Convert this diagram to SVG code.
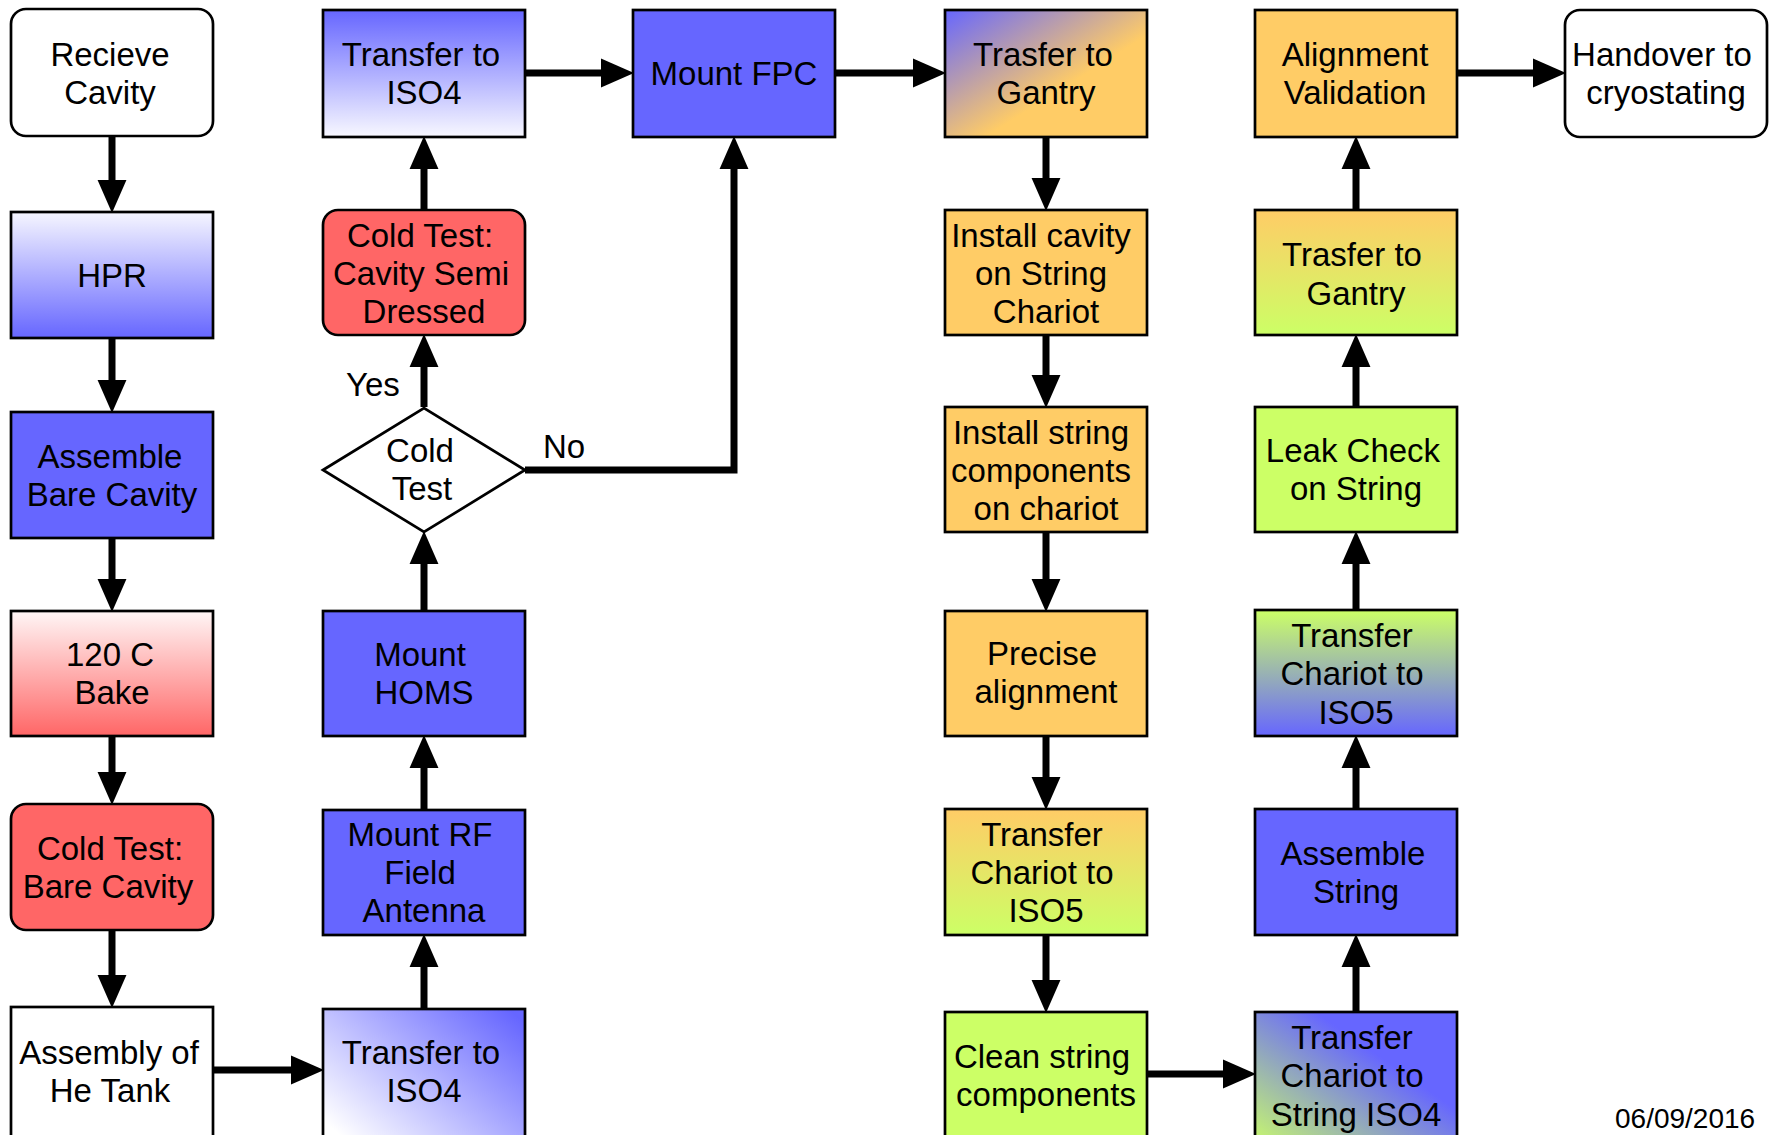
<svg xmlns="http://www.w3.org/2000/svg" width="1771" height="1135" viewBox="0 0 1771 1135">
<style>
.box{stroke:#000;stroke-width:2.7}
.t{font-family:"Liberation Sans",Arial,sans-serif;font-size:33px;fill:#000;text-anchor:middle}
.c{fill:none;stroke:#000;stroke-width:7;marker-end:url(#ah)}
.blue{fill:#6666ff}.red{fill:#ff6666}.org{fill:#ffcc66}.grn{fill:#ccff66}.wht{fill:#fff}
</style>
<defs>
<marker id="ah" markerUnits="userSpaceOnUse" markerWidth="33" markerHeight="29" viewBox="0 -14 32 28" refX="0" refY="0" orient="auto" overflow="visible">
<path d="M0,-14 L32,0 L0,14 Z" fill="#000"/>
</marker>
<linearGradient id="wToB" x1="0" y1="0" x2="0" y2="1"><stop offset="0" stop-color="#f6f6ff"/><stop offset="1" stop-color="#6666ff"/></linearGradient>
<linearGradient id="bToW" x1="0" y1="0" x2="0" y2="1"><stop offset="0" stop-color="#6666ff"/><stop offset="1" stop-color="#f8f8ff"/></linearGradient>
<linearGradient id="wToR" x1="0" y1="0" x2="0" y2="1"><stop offset="0" stop-color="#fff6f6"/><stop offset="1" stop-color="#ff6666"/></linearGradient>
<linearGradient id="diagWB" x1="0" y1="0.9" x2="1" y2="0.1"><stop offset="0.05" stop-color="#ffffff"/><stop offset="1" stop-color="#6666ff"/></linearGradient>
<linearGradient id="diagBO" x1="0" y1="0" x2="1" y2="1"><stop offset="0" stop-color="#6666ff"/><stop offset="0.6" stop-color="#ffcc66"/></linearGradient>
<linearGradient id="oToG" x1="0" y1="0" x2="0" y2="1"><stop offset="0" stop-color="#ffcc66"/><stop offset="1" stop-color="#ccff66"/></linearGradient>
<linearGradient id="gToB" x1="0" y1="0" x2="0" y2="1"><stop offset="0" stop-color="#ccff66"/><stop offset="1" stop-color="#6666ff"/></linearGradient>
<linearGradient id="diagGB" x1="0" y1="1" x2="1" y2="0"><stop offset="0" stop-color="#ccff66"/><stop offset="0.65" stop-color="#6666ff"/></linearGradient>
</defs>

<g id="connectors">
<path class="c" d="M112,137 V180"/>
<path class="c" d="M112,339 V380"/>
<path class="c" d="M112,539 V579"/>
<path class="c" d="M112,737 V772"/>
<path class="c" d="M112,931 V975"/>
<path class="c" d="M214,1070 H291"/>
<path class="c" d="M424,1008 V967"/>
<path class="c" d="M424,809 V768"/>
<path class="c" d="M424,610 V564"/>
<path class="c" d="M424,407 V367"/>
<path class="c" d="M424,209 V169"/>
<path class="c" d="M526,73 H601"/>
<path class="c" d="M525,470 H734 V169"/>
<path class="c" d="M836,73 H913"/>
<path class="c" d="M1046,138 V178"/>
<path class="c" d="M1046,336 V375"/>
<path class="c" d="M1046,533 V579"/>
<path class="c" d="M1046,737 V777"/>
<path class="c" d="M1046,936 V980"/>
<path class="c" d="M1148,1074 H1223"/>
<path class="c" d="M1356,1011 V967"/>
<path class="c" d="M1356,808 V768"/>
<path class="c" d="M1356,609 V564"/>
<path class="c" d="M1356,406 V367"/>
<path class="c" d="M1356,209 V169"/>
<path class="c" d="M1458,73 H1533"/>
<text class="t" x="346" y="396" style="text-anchor:start">Yes</text>
<text class="t" x="543" y="458" style="text-anchor:start">No</text>
</g>

<g id="recieve-cavity"><rect class="box wht" x="11" y="9" width="202" height="127" rx="15"/><text class="t" x="110" y="66">Recieve</text><text class="t" x="110" y="104">Cavity</text></g>
<g id="hpr"><rect class="box" fill="url(#wToB)" x="11" y="212" width="202" height="126"/><text class="t" x="112" y="287">HPR</text></g>
<g id="assemble-bare-cavity"><rect class="box blue" x="11" y="412" width="202" height="126"/><text class="t" x="110" y="468">Assemble</text><text class="t" x="112" y="506">Bare Cavity</text></g>
<g id="bake"><rect class="box" fill="url(#wToR)" x="11" y="611" width="202" height="125"/><text class="t" x="110" y="666">120 C</text><text class="t" x="112" y="704">Bake</text></g>
<g id="cold-test-bare"><rect class="box red" x="11" y="804" width="202" height="126" rx="15"/><text class="t" x="110" y="860">Cold Test:</text><text class="t" x="108" y="898">Bare Cavity</text></g>
<g id="he-tank"><rect class="box wht" x="11" y="1007" width="202" height="140"/><text class="t" x="109" y="1064">Assembly of</text><text class="t" x="110" y="1102">He Tank</text></g>

<g id="transfer-iso4-top"><rect class="box" fill="url(#bToW)" x="323" y="10" width="202" height="127"/><text class="t" x="421" y="66">Transfer to</text><text class="t" x="424" y="104">ISO4</text></g>
<g id="cold-test-semi"><rect class="box red" x="323" y="210" width="202" height="125" rx="15"/><text class="t" x="420" y="247">Cold Test:</text><text class="t" x="421" y="285">Cavity Semi</text><text class="t" x="424" y="323">Dressed</text></g>
<g id="cold-test-decision"><polygon class="box wht" points="323,470 424,408 525,470 424,532"/><text class="t" x="420" y="462">Cold</text><text class="t" x="422" y="500">Test</text></g>
<g id="mount-homs"><rect class="box blue" x="323" y="611" width="202" height="125"/><text class="t" x="420" y="666">Mount</text><text class="t" x="424" y="704">HOMS</text></g>
<g id="mount-rf"><rect class="box blue" x="323" y="810" width="202" height="125"/><text class="t" x="420" y="846">Mount RF</text><text class="t" x="420" y="884">Field</text><text class="t" x="424" y="922">Antenna</text></g>
<g id="transfer-iso4-bottom"><rect class="box" fill="url(#diagWB)" x="323" y="1009" width="202" height="140"/><text class="t" x="421" y="1064">Transfer to</text><text class="t" x="424" y="1102">ISO4</text></g>

<g id="mount-fpc"><rect class="box blue" x="633" y="10" width="202" height="127"/><text class="t" x="734" y="85">Mount FPC</text></g>

<g id="trasfer-gantry-1"><rect class="box" fill="url(#diagBO)" x="945" y="10" width="202" height="127"/><text class="t" x="1043" y="66">Trasfer to</text><text class="t" x="1046" y="104">Gantry</text></g>
<g id="install-cavity"><rect class="box org" x="945" y="210" width="202" height="125"/><text class="t" x="1041" y="247">Install cavity</text><text class="t" x="1041" y="285">on String</text><text class="t" x="1046" y="323">Chariot</text></g>
<g id="install-string"><rect class="box org" x="945" y="407" width="202" height="125"/><text class="t" x="1041" y="444">Install string</text><text class="t" x="1041" y="482">components</text><text class="t" x="1046" y="520">on chariot</text></g>
<g id="precise-alignment"><rect class="box org" x="945" y="611" width="202" height="125"/><text class="t" x="1042" y="665">Precise</text><text class="t" x="1046" y="703">alignment</text></g>
<g id="transfer-chariot-iso5-a"><rect class="box" fill="url(#oToG)" x="945" y="809" width="202" height="126"/><text class="t" x="1042" y="846">Transfer</text><text class="t" x="1042" y="884">Chariot to</text><text class="t" x="1046" y="922">ISO5</text></g>
<g id="clean-string"><rect class="box grn" x="945" y="1012" width="202" height="140"/><text class="t" x="1042" y="1068">Clean string</text><text class="t" x="1046" y="1106">components</text></g>

<g id="alignment-validation"><rect class="box org" x="1255" y="10" width="202" height="127"/><text class="t" x="1355" y="66">Alignment</text><text class="t" x="1355" y="104">Validation</text></g>
<g id="trasfer-gantry-2"><rect class="box" fill="url(#oToG)" x="1255" y="210" width="202" height="125"/><text class="t" x="1352" y="266">Trasfer to</text><text class="t" x="1356" y="305">Gantry</text></g>
<g id="leak-check"><rect class="box grn" x="1255" y="407" width="202" height="125"/><text class="t" x="1353" y="462">Leak Check</text><text class="t" x="1356" y="500">on String</text></g>
<g id="transfer-chariot-iso5-b"><rect class="box" fill="url(#gToB)" x="1255" y="610" width="202" height="126"/><text class="t" x="1352" y="647">Transfer</text><text class="t" x="1352" y="685">Chariot to</text><text class="t" x="1356" y="724">ISO5</text></g>
<g id="assemble-string"><rect class="box blue" x="1255" y="809" width="202" height="126"/><text class="t" x="1353" y="865">Assemble</text><text class="t" x="1356" y="903">String</text></g>
<g id="transfer-string-iso4"><rect class="box" fill="url(#diagGB)" x="1255" y="1012" width="202" height="140"/><text class="t" x="1352" y="1049">Transfer</text><text class="t" x="1352" y="1087">Chariot to</text><text class="t" x="1356" y="1126">String ISO4</text></g>

<g id="handover"><rect class="box wht" x="1565" y="10" width="202" height="127" rx="15"/><text class="t" x="1662" y="66">Handover to</text><text class="t" x="1666" y="104">cryostating</text></g>

<text x="1615" y="1128" style="font-family:'Liberation Sans',Arial,sans-serif;font-size:28px;fill:#000">06/09/2016</text>
</svg>
